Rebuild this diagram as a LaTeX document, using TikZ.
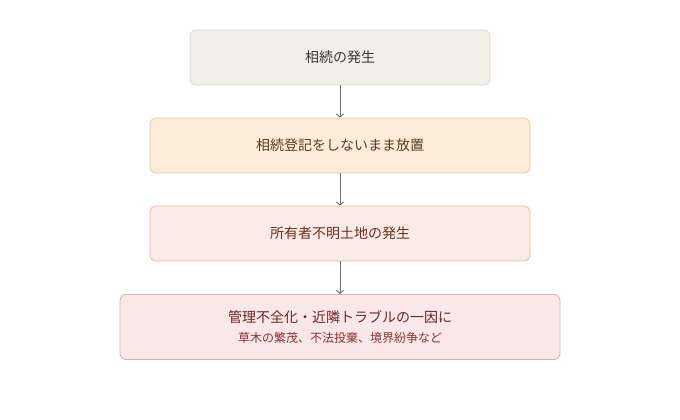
\documentclass[tikz,border=0pt]{standalone}
\usepackage{fontspec}
\setmainfont{Noto Sans CJK JP}
\usetikzlibrary{arrows.meta}
\definecolor{fillA}{HTML}{F1EEE7}\definecolor{drawA}{HTML}{DCD8CF}\definecolor{textA}{HTML}{3A3A3A}
\definecolor{fillB}{HTML}{FAECD9}\definecolor{drawB}{HTML}{E9C89A}\definecolor{textB}{HTML}{5A3D1F}
\definecolor{fillC}{HTML}{FBEBE6}\definecolor{drawC}{HTML}{EFB6A3}\definecolor{textC}{HTML}{6B2F1F}
\definecolor{fillD}{HTML}{FAE8E8}\definecolor{drawD}{HTML}{E2AAAA}\definecolor{textD}{HTML}{6B2525}\definecolor{subD}{HTML}{8B2F2F}
\definecolor{linkc}{HTML}{707070}
\begin{document}
\begin{tikzpicture}[x=1pt,y=-1pt,
  box/.style={draw, rounded corners=6pt, line width=0.8pt, inner sep=0pt, align=center, font=\fontsize{14pt}{17pt}\selectfont},
  link/.style={draw=linkc, line width=1pt, -{Straight Barb[length=3pt,width=7pt]}}]
\useasboundingbox (0,0) rectangle (680,420);
\node[box, fill=fillA, draw=drawA, text=textA, minimum width=300pt, minimum height=55pt] (a) at (340,57.5) {相続の発生};
\node[box, fill=fillB, draw=drawB, text=textB, minimum width=380pt, minimum height=55pt] (b) at (340,145.5) {相続登記をしないまま放置};
\node[box, fill=fillC, draw=drawC, text=textC, minimum width=380pt, minimum height=55pt] (c) at (340,233.5) {所有者不明土地の発生};
\node[box, fill=fillD, draw=drawD, text=textD, minimum width=440pt, minimum height=65pt] (d) at (340,327) {管理不全化・近隣トラブルの一因に\\[3pt]{\fontsize{12pt}{14pt}\selectfont\color{subD}草木の繁茂、不法投棄、境界紛争など}};
\draw[link] (a) -- (b);
\draw[link] (b) -- (c);
\draw[link] (c) -- (d);
\end{tikzpicture}
\end{document}
